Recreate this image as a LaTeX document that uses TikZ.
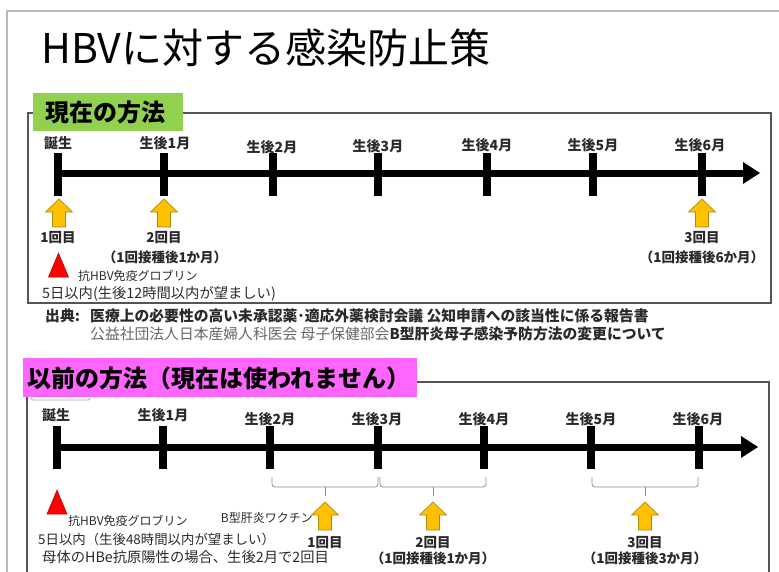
\documentclass[tikz,border=0pt]{standalone}
\usepackage{fontspec}
\setmainfont{Noto Sans CJK JP}
\definecolor{afill}{HTML}{FFC000}
\definecolor{aline}{HTML}{B08A10}
\definecolor{greenlab}{HTML}{92D050}
\definecolor{pinklab}{HTML}{FF66FF}
\definecolor{framec}{HTML}{555555}
\definecolor{txt}{HTML}{2A2A2A}
\definecolor{bracec}{HTML}{8C8C8C}
\newcommand{\fs}[1]{\fontsize{#1}{#1}\selectfont}
\tikzset{
  uparrow/.pic={\path[draw=aline,fill=afill,line width=0.7,line join=miter]
    (0,0) -- (13.5,13) -- (6.5,13) -- (6.5,28) -- (-6.5,28) -- (-6.5,13) -- (-13.5,13) -- cycle;},
  redtri/.pic={\path[draw=red!70!black,fill=red,line width=0.5] (0,0) -- (10,24) -- (-10,24) -- cycle;},
  tl/.style={text=txt,font=\fs{14}\bfseries,inner sep=0},
  lab/.style={text=txt,font=\fs{13.5}\bfseries,inner sep=0},
  small/.style={text=txt,font=\fs{12},inner sep=0},
  note/.style={text=txt,font=\fs{14.3},inner sep=0},
  srcb/.style={text=txt,font=\fs{14.8}\bfseries,inner sep=0,anchor=west},
  brc/.style={draw=bracec,line width=0.8,rounded corners=3}
}
\begin{document}
\begin{tikzpicture}[x=1pt,y=-1pt]
\useasboundingbox (0,0) rectangle (779,571);
\clip (0,0) rectangle (779,571);
% outer slide frame
\draw[gray!55,line width=1.5] (7,600) -- (7,11) -- (800,11);
% title
\node[anchor=west,inner sep=0,font=\fs{41},text=black] (title) at (41,48) {HBVに対する感染防止策};

% ---------- section 1 ----------
\draw[framec,line width=1.2] (28,113) rectangle (771,303);
\fill[greenlab] (33,93) rectangle (183,131);
\node[inner sep=0,font=\fs{24}\bfseries,text=black] (lab1) at (105.5,112) {現在の方法};

% timeline 1
\fill (58,169.5) rectangle (745,176.5);
\fill (743,162) -- (760,173) -- (743,184) -- cycle;
\foreach \x in {58,164,273,378,487,593,702}{\fill (\x-3.6,153) rectangle (\x+3.6,196);}
\node[tl] (b0) at (58,143) {誕生};
\node[tl] (b1) at (165,143) {生後1月};
\node[tl] (b2) at (272,147) {生後2月};
\node[tl] (b3) at (378,146) {生後3月};
\node[tl] (b4) at (487,145) {生後4月};
\node[tl] (b5) at (593,145) {生後5月};
\node[tl] (b6) at (700,145) {生後6月};

\pic at (59,199) {uparrow};
\pic at (164,199) {uparrow};
\pic at (702,199) {uparrow};
\node[lab] (d1) at (58,238) {1回目};
\node[lab] (d2) at (164,238) {2回目};
\node[lab] (d2b) at (165,257) {（1回接種後1か月）};
\node[lab] (d3) at (702,238) {3回目};
\node[lab] (d3b) at (702,257) {（1回接種後6か月）};
\pic at (58.5,253) {redtri};
\node[small,anchor=west] (g1) at (78,276) {抗HBV免疫グロブリン};
\node[note,anchor=west] (g1b) at (42,294) {5日以内(生後12時間以内が望ましい)};

% source
\node[srcb] (src) at (45,316) {出典:};
\node[srcb] (src1) at (90,316) {医療上の必要性の高い未承認薬･適応外薬検討会議 公知申請への該当性に係る報告書};
\node[anchor=west,inner sep=0,font=\fs{14.8}] (src2) at (90,334) {\textcolor{gray!80!black}{公益社団法人日本産婦人科医会 母子保健部会}\textcolor{txt}{\bfseries B型肝炎母子感染予防方法の変更について}};

% ---------- section 2 ----------
\draw[framec,line width=1.2] (27,600) -- (27,382) -- (769,382) -- (769,600);
\draw[gray!70,line width=0.8,rounded corners=1.5] (31,385) rectangle (90,400);
\fill[pinklab] (23,358) rectangle (417,397);
\node[inner sep=0,font=\fs{24}\bfseries,text=black] (lab2) at (219,378) {以前の方法（現在は使われません）};

% timeline 2
\fill (57,443.5) rectangle (743,450.5);
\fill (741,436) -- (758,447) -- (741,458) -- cycle;
\foreach \x in {57,163,270,378,484,591,699}{\fill (\x-3.6,426) rectangle (\x+3.6,469);}
\node[tl] (c0) at (56,415) {誕生};
\node[tl] (c1) at (163,415) {生後1月};
\node[tl] (c2) at (270,419) {生後2月};
\node[tl] (c3) at (377,419) {生後3月};
\node[tl] (c4) at (484,419) {生後4月};
\node[tl] (c5) at (591,419) {生後5月};
\node[tl] (c6) at (698,419) {生後6月};

% braces
\draw[brc] (272,477) |- (325,487);
\draw[brc] (325,487) -| (378,477);
\draw[bracec,line width=0.8] (325,487) -- (325,496);
\draw[brc] (380,477) |- (433,487);
\draw[brc] (433,487) -| (486,477);
\draw[bracec,line width=0.8] (433,487) -- (433,496);
\draw[brc] (592,477) |- (645,487);
\draw[brc] (645,487) -| (698,477);
\draw[bracec,line width=0.8] (645,487) -- (645,496);

\pic at (325,502) {uparrow};
\pic at (433,502) {uparrow};
\pic at (645,502) {uparrow};
\node[small,anchor=east] (vac) at (313,518) {B型肝炎ワクチン};
\node[lab] (e1) at (325,543) {1回目};
\node[lab] (e2) at (433,543) {2回目};
\node[lab] (e2b) at (433,558) {（1回接種後1か月）};
\node[lab] (e3) at (645,543) {3回目};
\node[lab] (e3b) at (645,558) {（1回接種後3か月）};

\pic at (57,490) {redtri};
\node[small,anchor=west] (g2) at (68,521) {抗HBV免疫グロブリン};
\node[note,anchor=west,font=\fs{13.4}] (g2b) at (38,539) {5日以内（生後48時間以内が望ましい）};
\node[note,anchor=west] (g2c) at (42,557) {母体のHBe抗原陽性の場合、生後2月で2回目};
\end{tikzpicture}
\end{document}
